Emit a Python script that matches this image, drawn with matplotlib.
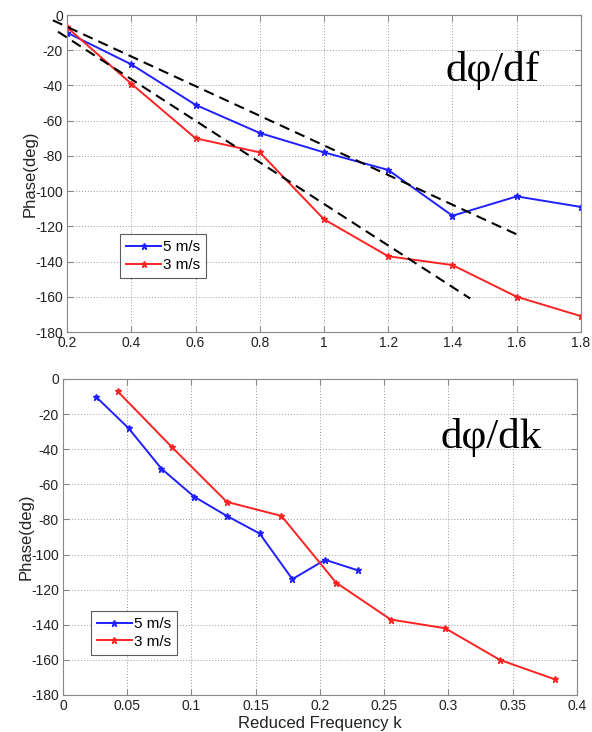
import matplotlib
matplotlib.use("Agg")
import matplotlib.pyplot as plt
import numpy as np

# Phase response measured at two wind speeds
freq = [0.2, 0.4, 0.6, 0.8, 1.0, 1.2, 1.4, 1.6, 1.8]
phase_5ms = [-10, -28, -51, -67, -78, -88, -114, -103, -109]
phase_3ms = [-7, -39, -70, -78, -116, -137, -142, -160, -171]

# Reduced frequency for each speed
k_5ms = [0.0255, 0.051, 0.0765, 0.102, 0.1275, 0.153, 0.1785, 0.204, 0.2295]
k_3ms = [0.0425, 0.085, 0.1275, 0.17, 0.2125, 0.255, 0.2975, 0.34, 0.3825]

# Linear phase-slope guides (start/end points)
guide_upper_x = [0.156, 1.611]
guide_upper_y = [-3, -125.5]
guide_lower_x = [0.172, 1.455]
guide_lower_y = [-9.5, -161]

yticks = [0, -20, -40, -60, -80, -100, -120, -140, -160, -180]
top_xticks = [0.2, 0.4, 0.6, 0.8, 1.0, 1.2, 1.4, 1.6, 1.8]
top_xlabels = ["0.2", "0.4", "0.6", "0.8", "1", "1.2", "1.4", "1.6", "1.8"]
bot_xticks = [0, 0.05, 0.1, 0.15, 0.2, 0.25, 0.3, 0.35, 0.4]
bot_xlabels = ["0", "0.05", "0.1", "0.15", "0.2", "0.25", "0.3", "0.35", "0.4"]

BLUE = "#1f1fff"
RED = "#ff2222"

plt.rcParams["font.family"] = ["Liberation Sans", "DejaVu Sans"]

W, H = 592, 732
fig = plt.figure(figsize=(W / 100, H / 100), dpi=100)

ax1 = fig.add_axes([67 / W, 1 - 332 / H, (581 - 67) / W, (332 - 15) / H])
ax2 = fig.add_axes([63 / W, 1 - 695 / H, (577 - 63) / W, (695 - 379) / H])


def style(ax):
    ax.grid(True, linestyle=(0, (1, 2)), color="#999999", linewidth=0.7)
    ax.set_axisbelow(True)
    for s in ax.spines.values():
        s.set_color("#888888")
        s.set_linewidth(0.8)
    ax.tick_params(direction="in", length=4, color="#888888", pad=3,
                   labelsize=10, labelcolor="#222222", top=True, right=True,
                   labeltop=False, labelright=False)
    ax.set_yticks(yticks)
    ax.set_yticklabels([str(v) for v in yticks])
    ax.set_ylim(-180, 0)
    ax.set_ylabel("Phase(deg)", fontsize=12, color="#222222", labelpad=-2)


mk = dict(marker="*", markersize=4.5, linewidth=1.4)
leg_kw = dict(loc="lower left", fontsize=11, frameon=True, fancybox=False,
              handlelength=2.3, handletextpad=0.1, borderpad=0.4,
              labelspacing=0.25, borderaxespad=0)

# Phase vs frequency
ax1.plot(freq, phase_5ms, color=BLUE, label="5 m/s", **mk)
ax1.plot(freq, phase_3ms, color=RED, label="3 m/s", **mk)
ax1.plot(guide_upper_x, guide_upper_y, color="black", linestyle=(0, (5, 3)),
         linewidth=1.5, clip_on=False)
ax1.plot(guide_lower_x, guide_lower_y, color="black", linestyle=(0, (5, 3)),
         linewidth=1.5, clip_on=False)
ax1.set_xlim(0.2, 1.8)
ax1.set_xticks(top_xticks)
ax1.set_xticklabels(top_xlabels)
style(ax1)
ax1.text(1.526, -37.5, "dφ/df", fontsize=31, family="Liberation Serif",
         ha="center", va="baseline")
leg1 = ax1.legend(bbox_to_anchor=(0.103, 0.17), **leg_kw)
leg1.get_frame().set_edgecolor("#333333")
leg1.get_frame().set_linewidth(0.8)

# Phase vs reduced frequency
ax2.plot(k_5ms, phase_5ms, color=BLUE, label="5 m/s", **mk)
ax2.plot(k_3ms, phase_3ms, color=RED, label="3 m/s", **mk)
ax2.set_xlim(0, 0.4)
ax2.set_xticks(bot_xticks)
ax2.set_xticklabels(bot_xlabels)
style(ax2)
ax2.set_xlabel("Reduced Frequency k", fontsize=12, color="#222222", labelpad=2)
ax2.text(0.333, -39.3, "dφ/dk", fontsize=31, family="Liberation Serif",
         ha="center", va="baseline")
leg2 = ax2.legend(bbox_to_anchor=(0.054, 0.127), **leg_kw)
leg2.get_frame().set_edgecolor("#333333")
leg2.get_frame().set_linewidth(0.8)

fig.savefig("out.png", dpi=100, facecolor="white")
